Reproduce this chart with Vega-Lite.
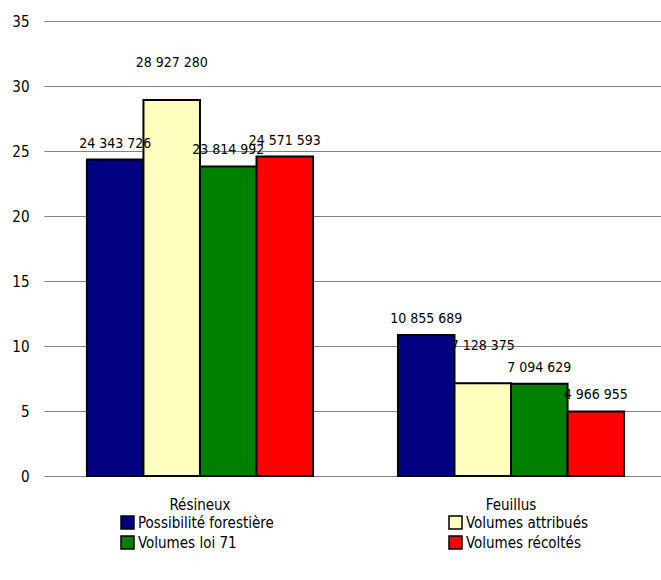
{
  "$schema": "https://vega.github.io/schema/vega-lite/v6.json",
  "width": 623,
  "height": 455,
  "autosize": "none",
  "padding": {"left": 44, "top": 21, "right": 0, "bottom": 104},
  "background": "white",
  "config": {
    "view": {"stroke": null},
    "font": "DejaVu Sans Condensed, Liberation Sans, sans-serif",
    "locale": {"number": {"decimal": ",", "thousands": " ", "grouping": [3], "currency": ["", " €"]}}
  },
  "data": {
    "values": [
      {"type": "Résineux", "serie": "Possibilité forestière", "value": 24343726},
      {"type": "Résineux", "serie": "Volumes attribués", "value": 28927280},
      {"type": "Résineux", "serie": "Volumes loi 71", "value": 23814992},
      {"type": "Résineux", "serie": "Volumes récoltés", "value": 24571593},
      {"type": "Feuillus", "serie": "Possibilité forestière", "value": 10855689},
      {"type": "Feuillus", "serie": "Volumes attribués", "value": 7128375},
      {"type": "Feuillus", "serie": "Volumes loi 71", "value": 7094629},
      {"type": "Feuillus", "serie": "Volumes récoltés", "value": 4966955}
    ]
  },
  "encoding": {
    "x": {
      "field": "type", "type": "nominal", "sort": ["Résineux", "Feuillus"],
      "scale": {"paddingInner": 0.273, "paddingOuter": 0.138},
      "axis": {"title": null, "ticks": false, "domain": false, "labelAngle": 0, "labelPadding": 21, "labelFontSize": 15, "labelColor": "#000"}
    },
    "xOffset": {
      "field": "serie", "type": "nominal",
      "sort": ["Possibilité forestière", "Volumes attribués", "Volumes loi 71", "Volumes récoltés"],
      "scale": {"paddingInner": 0, "paddingOuter": 0}
    },
    "y": {
      "field": "value", "type": "quantitative",
      "scale": {"domain": [0, 35000000], "nice": false},
      "axis": {
        "title": null, "domain": false, "ticks": false,
        "values": [0, 5000000, 10000000, 15000000, 20000000, 25000000, 30000000, 35000000],
        "labelExpr": "datum.value / 1000000",
        "labelPadding": 15, "labelFontSize": 15, "labelColor": "#000",
        "gridColor": "#808080", "gridWidth": 1, "gridOpacity": 1
      }
    }
  },
  "layer": [
    {
      "mark": {"type": "bar", "stroke": "#000", "strokeWidth": 2},
      "encoding": {
        "color": {
          "field": "serie", "type": "nominal",
          "sort": ["Possibilité forestière", "Volumes loi 71", "Volumes attribués", "Volumes récoltés"],
          "scale": {"range": ["#000080", "#008000", "#FFFFC0", "#FF0000"]},
          "legend": {
            "title": null, "orient": "none", "legendX": 76, "legendY": 494,
            "columns": 2, "columnPadding": 172, "rowPadding": 1,
            "symbolType": "square", "symbolSize": 169, "symbolStrokeColor": "#000", "symbolStrokeWidth": 1.5, "symbolOpacity": 1,
            "labelFontSize": 15, "labelColor": "#000", "labelOffset": 3, "labelLimit": 300
          }
        }
      }
    },
    {
      "transform": [{"filter": "datum.serie !== 'Volumes attribués'"}],
      "mark": {"type": "text", "baseline": "bottom", "dy": -9, "fontSize": 14, "color": "#000"},
      "encoding": {
        "text": {"field": "value", "type": "quantitative", "format": ",d"}
      }
    },
    {
      "transform": [{"filter": "datum.serie === 'Volumes attribués'"}],
      "mark": {"type": "text", "baseline": "bottom", "dy": -30, "fontSize": 14, "color": "#000"},
      "encoding": {
        "text": {"field": "value", "type": "quantitative", "format": ",d"}
      }
    }
  ]
}
